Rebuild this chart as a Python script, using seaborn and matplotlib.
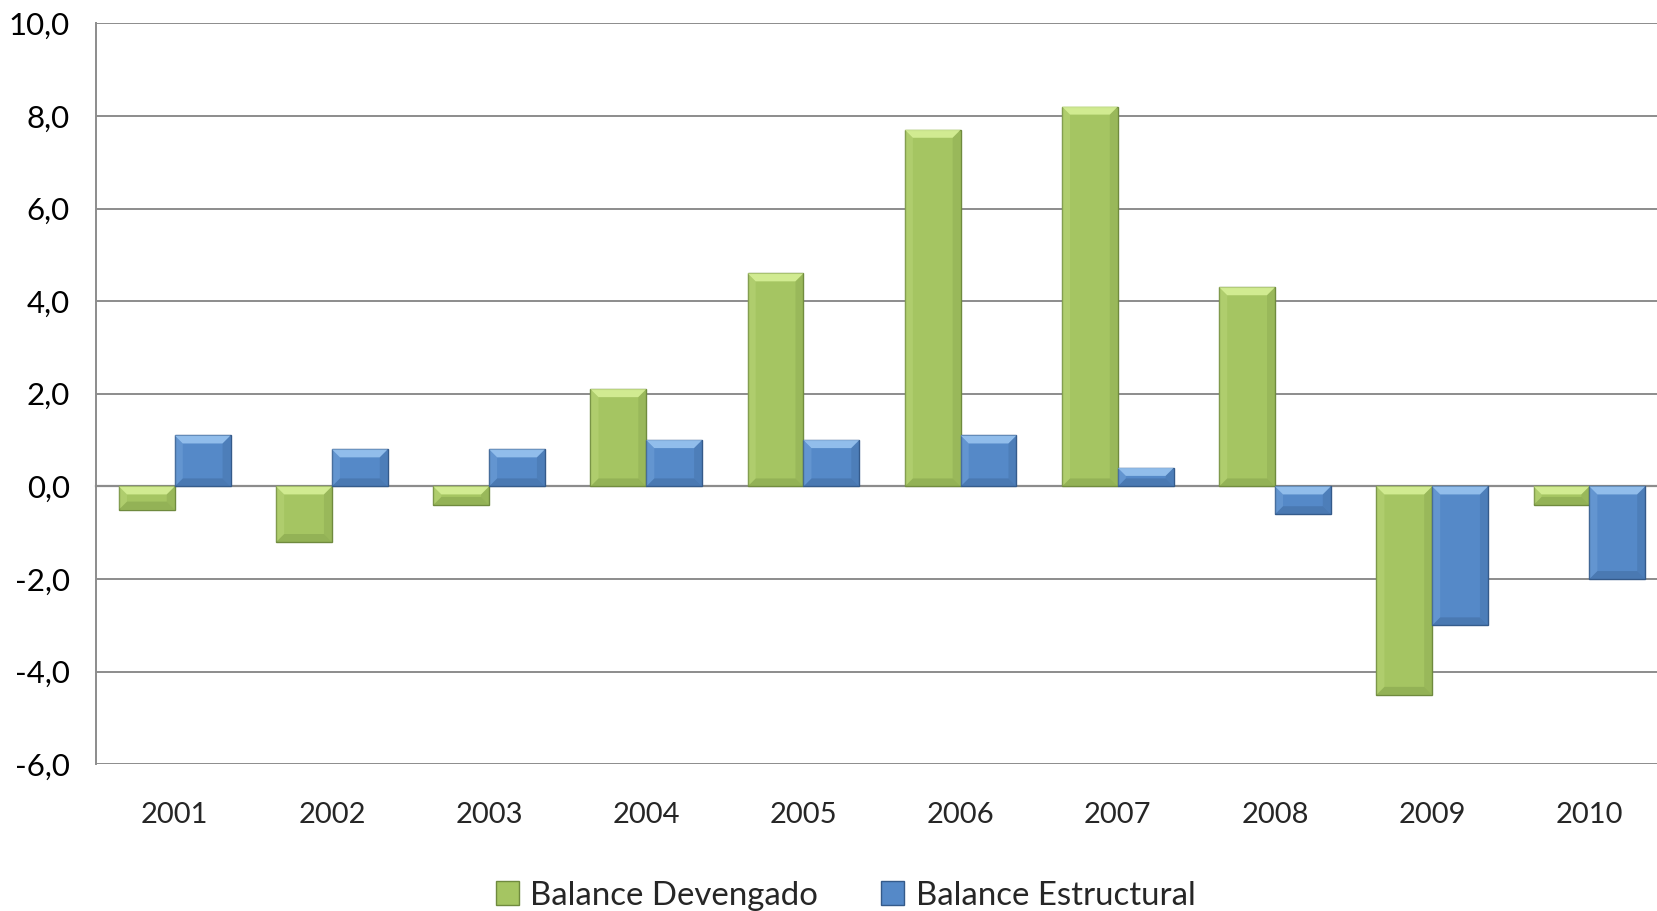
import matplotlib
matplotlib.use('Agg')
import matplotlib.pyplot as plt
import matplotlib.patches as mpatches
import matplotlib.transforms as mtransforms
from matplotlib.ticker import FuncFormatter, FixedLocator
import numpy as np
import pandas as pd
import seaborn as sns

years = ['2001', '2002', '2003', '2004', '2005', '2006', '2007', '2008', '2009', '2010']
devengado = [-0.5, -1.2, -0.4, 2.1, 4.6, 7.7, 8.2, 4.3, -4.5, -0.4]
estructural = [1.1, 0.8, 0.8, 1.0, 1.0, 1.1, 0.4, -0.6, -3.0, -2.0]
series_names = ['Balance Devengado', 'Balance Estructural']

# body, light bevel, dark bevel, edge
green = ('#A5C562', '#D9F29A', '#7F9C48', '#6F8A3E')
blue = ('#5589C8', '#9CC7F2', '#3D6699', '#345A8A')

df = pd.DataFrame({
    'year': years * 2,
    'serie': [series_names[0]] * len(years) + [series_names[1]] * len(years),
    'valor': devengado + estructural,
})

sns.set_style('white')
plt.rcParams['font.family'] = ['Lato', 'DejaVu Sans']

fig = plt.figure(figsize=(16.58, 9.11), dpi=100)
ax = fig.add_axes([0.058, 0.161, 0.948, 0.8135])

sns.barplot(data=df, x='year', y='valor', hue='serie', palette=[green[0], blue[0]],
            width=0.71, gap=0, saturation=1, legend=False, ax=ax, zorder=3)

ax.set_ylim(-6, 10)
ax.set_yticks(np.arange(-6, 10.1, 2))
ax.yaxis.set_major_formatter(FuncFormatter(lambda v, p: f'{v:.1f}'.replace('.', ',')))
ax.grid(axis='y', color='#8C8C8C', lw=1.4, zorder=0)
ax.set_axisbelow(True)
ax.set_xlabel('')
ax.set_ylabel('')

for s in ['top', 'right']:
    ax.spines[s].set_visible(False)
ax.spines['left'].set_color('#8C8C8C')
ax.spines['left'].set_linewidth(1.4)
ax.spines['bottom'].set_position(('data', 0))
ax.spines['bottom'].set_color('#8C8C8C')
ax.spines['bottom'].set_linewidth(1.6)
ax.spines['bottom'].set_zorder(2)

ax.tick_params(axis='y', length=7, width=1.4, color='#8C8C8C', pad=12, labelsize=22.5, labelcolor='black')
bounds = np.arange(len(years)) + 0.5
ax.xaxis.set_major_locator(FixedLocator(bounds))
ax.set_xticklabels([''] * len(bounds))
ax.tick_params(axis='x', length=7, width=1.4, color='#8C8C8C', direction='out')

sec = ax.secondary_xaxis(0)
sec.set_xticks(np.arange(len(years)), years)
sec.tick_params(length=0, pad=27, labelsize=21)
sec.spines['bottom'].set_visible(False)

# edges and bevel look
fig.canvas.draw()
renderer = fig.canvas.get_renderer()
ident = mtransforms.IdentityTransform()
for cont, col in zip(ax.containers, [green, blue]):
    for p in cont:
        p.set_edgecolor(col[3])
        p.set_linewidth(1.0)
        bb = p.get_window_extent(renderer)
        x0, x1, y0, y1 = bb.x0, bb.x1, bb.y0, bb.y1
        b = min(8, (y1 - y0) / 2.2)
        polys = [
            ([(x0, y1), (x1, y1), (x1 - b, y1 - b), (x0 + b, y1 - b)], col[1], 0.85),
            ([(x0, y0), (x1, y0), (x1 - b, y0 + b), (x0 + b, y0 + b)], col[2], 0.45),
            ([(x1, y0), (x1, y1), (x1 - b, y1 - b), (x1 - b, y0 + b)], col[2], 0.3),
            ([(x0, y0), (x0, y1), (x0 + b, y1 - b), (x0 + b, y0 + b)], col[1], 0.2),
        ]
        for pts, c, a in polys:
            fig.add_artist(mpatches.Polygon(pts, closed=True, transform=ident,
                                            facecolor=c, edgecolor='none', alpha=a, zorder=4))

handles = [mpatches.Patch(facecolor=green[0], edgecolor=green[3]),
           mpatches.Patch(facecolor=blue[0], edgecolor=blue[3])]
fig.legend(handles, series_names, loc='center', bbox_to_anchor=(0.51, 0.017), ncol=2,
           frameon=False, fontsize=23.8, handlelength=0.7, handleheight=0.7,
           columnspacing=1.9, handletextpad=0.35)

fig.savefig('out.png', dpi=100)
